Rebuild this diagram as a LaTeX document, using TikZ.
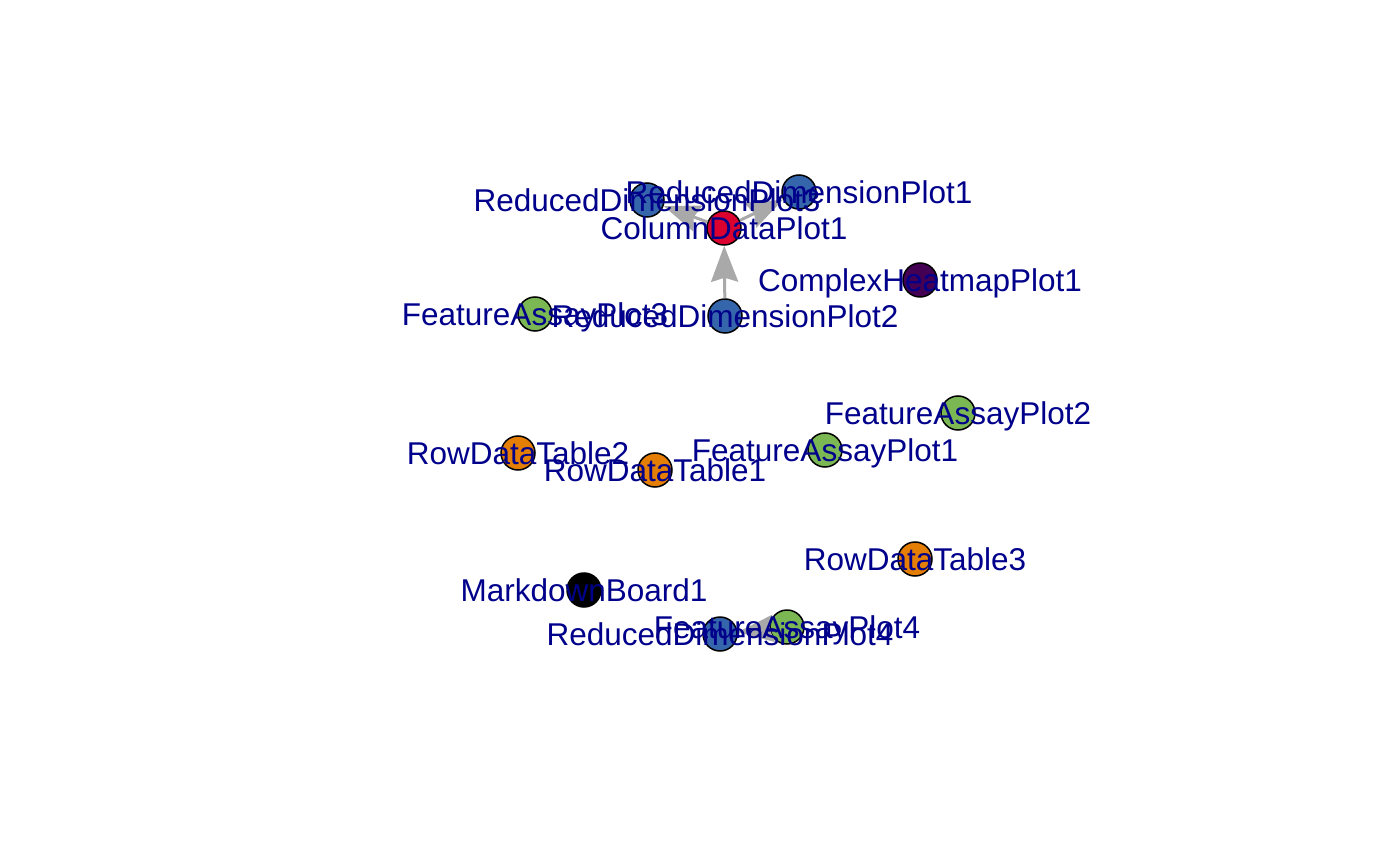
\documentclass[tikz,border=0pt]{standalone}
\usepackage{fontspec}
\setmainfont{Liberation Sans}
\usetikzlibrary{arrows.meta}
\definecolor{rdpcol}{HTML}{3565AA}
\definecolor{cdpcol}{HTML}{DB0230}
\definecolor{fapcol}{HTML}{7BB854}
\definecolor{rdtcol}{HTML}{E47E04}
\definecolor{chpcol}{HTML}{440154}
\definecolor{lblcol}{HTML}{00008B}
\definecolor{edgecol}{HTML}{A9A9A9}
\tikzset{
  panel/.style={draw, circle, line width=0.75pt, minimum size=17pt, inner sep=0pt, fill=#1},
  lbl/.style={text=lblcol, inner sep=0pt, text height=0.72em, text depth=0pt, yshift=-2pt,
    font=\fontsize{15.75pt}{18pt}\selectfont},
  link/.style={draw=edgecol, line width=1.5pt,
    -{Stealth[length=18pt, width=13.5pt, inset=2pt, fill=edgecol]}}
}
\begin{document}
\begin{tikzpicture}[x=0.5pt, y=-0.5pt]
                \useasboundingbox (0,0) rectangle (1400,865);
                \node[panel=rdpcol] (rdp1) at (799, 192) {};
                \node[panel=rdpcol] (rdp3) at (647, 200) {};
                \node[panel=cdpcol] (cdp1) at (724, 228) {};
                \node[panel=chpcol] (chp1) at (920, 280) {};
                \node[panel=fapcol] (fap3) at (535, 314) {};
                \node[panel=rdpcol] (rdp2) at (725, 316) {};
                \node[panel=fapcol] (fap2) at (958, 413) {};
                \node[panel=fapcol] (fap1) at (825, 450) {};
                \node[panel=rdtcol] (rdt2) at (518, 453) {};
                \node[panel=rdtcol] (rdt1) at (655, 470) {};
                \node[panel=rdtcol] (rdt3) at (915, 559) {};
                \node[panel=black]  (mb1)  at (584, 590) {};
                \node[panel=fapcol] (fap4) at (787, 627) {};
                \node[panel=rdpcol] (rdp4) at (720, 634) {};
                \draw[link] (rdp2) -- (cdp1);
                \draw[link] (cdp1) -- (rdp3);
                \draw[link] (cdp1) -- (rdp1);
                \draw[link] (fap4) -- (rdp4);
                \node[lbl] (rdp1-l) at (rdp1) {ReducedDimensionPlot1};
                \node[lbl] (rdp3-l) at (rdp3) {ReducedDimensionPlot3};
                \node[lbl] (cdp1-l) at (cdp1) {ColumnDataPlot1};
                \node[lbl] (chp1-l) at (chp1) {ComplexHeatmapPlot1};
                \node[lbl] (fap3-l) at (fap3) {FeatureAssayPlot3};
                \node[lbl] (rdp2-l) at (rdp2) {ReducedDimensionPlot2};
                \node[lbl] (fap2-l) at (fap2) {FeatureAssayPlot2};
                \node[lbl] (fap1-l) at (fap1) {FeatureAssayPlot1};
                \node[lbl] (rdt2-l) at (rdt2) {RowDataTable2};
                \node[lbl] (rdt1-l) at (rdt1) {RowDataTable1};
                \node[lbl] (rdt3-l) at (rdt3) {RowDataTable3};
                \node[lbl] (mb1-l)  at (mb1)  {MarkdownBoard1};
                \node[lbl] (fap4-l) at (fap4) {FeatureAssayPlot4};
                \node[lbl] (rdp4-l) at (rdp4) {ReducedDimensionPlot4};
            \end{tikzpicture}
\end{document}
